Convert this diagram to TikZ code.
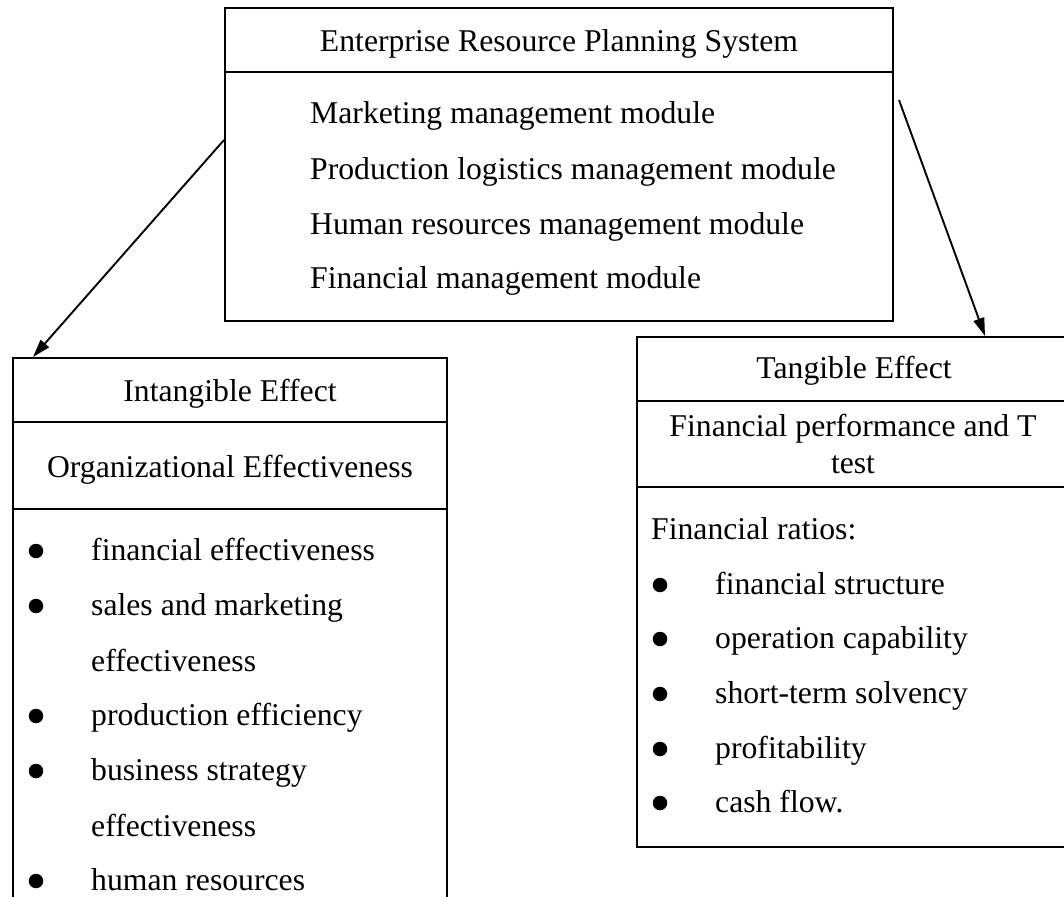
\documentclass[tikz,border=0pt]{standalone}
\usepackage{fontspec}
\setmainfont{Liberation Serif}
\usetikzlibrary{arrows.meta}
\newcommand\bodyfont{\fontsize{31.7pt}{38pt}\selectfont}
\begin{document}
\begin{tikzpicture}[x=1pt,y=-1pt,
  box/.style={draw, line width=2pt, inner sep=0pt, anchor=north west},
  rule/.style={line width=2pt},
  txt/.style={font=\bodyfont, inner sep=0pt},
  item/.style={txt, anchor=base west},
  head/.style={txt, anchor=base},
  dot/.style={circle, fill, inner sep=0pt, minimum size=14.5pt},
  link/.style={line width=1.9pt, -{Triangle[length=18pt,width=11pt]}}]
\useasboundingbox (0,0) rectangle (1064,896);
\clip (0,0) rectangle (1064,896);

% ERP system box
\node[box, minimum width=668pt, minimum height=313pt] (erp) at (224,7) {};
\draw[rule] (erp.west |- 0,72) -- (erp.east |- 0,72);
\node[head] (erpT) at (erp.center |- 0,52) {Enterprise Resource Planning System};
\node[item] (m1) at (310,124) {Marketing management module};
\node[item] (m2) at (310,179) {Production logistics management module};
\node[item] (m3) at (310,234) {Human resources management module};
\node[item] (m4) at (310,288) {Financial management module};

% Intangible effect box (runs past the lower edge)
\node[box, minimum width=434pt, minimum height=600pt] (ie) at (12,357) {};
\draw[rule] (ie.west |- 0,422) -- (ie.east |- 0,422);
\draw[rule] (ie.west |- 0,509) -- (ie.east |- 0,509);
\node[head] (ieT) at (ie.center |- 0,401) {Intangible Effect};
\node[head] (ieS) at (ie.center |- 0,477) {Organizational Effectiveness};
\node[item] (i1) at (91,560) {financial effectiveness};
\node[item] (i2) at (91,615) {sales and marketing};
\node[item] (i2b) at (91,671) {effectiveness};
\node[item] (i3) at (91,725) {production efficiency};
\node[item] (i4) at (91,780) {business strategy};
\node[item] (i4b) at (91,836) {effectiveness};
\node[item] (i5) at (91,890) {human resources};
\foreach \y in {560,615,725,780,890} \node[dot] at (36,\y-9) {};

% Tangible effect box (runs past the right edge)
\node[box, minimum width=436pt, minimum height=510pt] (te) at (636,336) {};
\draw[rule] (te.west |- 0,401) -- (te.east |- 0,401);
\draw[rule] (te.west |- 0,487) -- (te.east |- 0,487);
\node[head] (teT) at (854,378) {Tangible Effect};
\node[head] (teS1) at (853,436) {Financial performance and T};
\node[head] (teS2) at (853,473) {test};
\node[item] (tr) at (651,539) {Financial ratios:};
\node[item] (t1) at (715,594) {financial structure};
\node[item] (t2) at (715,648) {operation capability};
\node[item] (t3) at (715,703) {short-term solvency};
\node[item] (t4) at (715,758) {profitability};
\node[item] (t5) at (715,812) {cash flow.};
\foreach \y in {594,648,703,758,812} \node[dot] at (660,\y-9) {};

% Connectors
\coordinate (erpL) at ([yshift=-133pt]erp.north west);
\coordinate (erpR) at ([xshift=5pt,yshift=-93pt]erp.north east);
\coordinate (ieIn) at ([xshift=21pt]ie.north west);
\coordinate (teIn) at ([xshift=349pt]te.north west);
\draw[link] (erpL) -- (ieIn);
\draw[link] (erpR) -- (teIn);
\end{tikzpicture}
\end{document}
